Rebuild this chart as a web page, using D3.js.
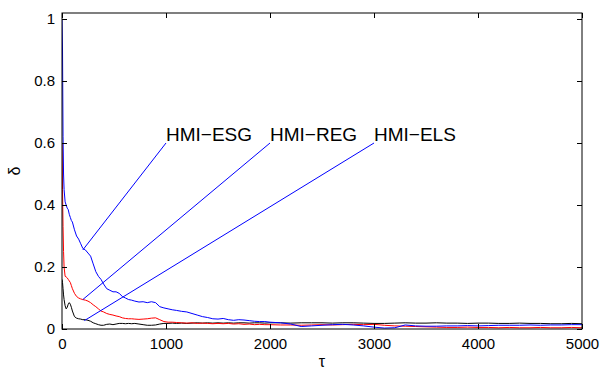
<!DOCTYPE html>
<html>
<head>
<meta charset="utf-8">
<script src="https://cdn.jsdelivr.net/npm/d3@7"></script>
<style>
  body { margin: 0; background: #fff; }
  svg { display: block; font-family: "Liberation Sans", Arial, sans-serif; }
</style>
</head>
<body>
<div id="chart"></div>
<script>
// sample positions (tau) shared by the three curves
const tau = [0, 5, 10, 15, 20, 30, 40, 50, 60, 70, 80, 90, 100, 120, 140, 160, 180, 200,
  225, 250, 275, 300, 325, 350, 375, 400, 430, 460, 490, 520, 550, 580, 610, 640, 670, 700,
  740, 780, 820, 860, 900, 940, 980, 1020, 1060, 1100, 1150, 1200, 1250, 1300, 1350, 1400,
  1450, 1500, 1550, 1600, 1650, 1700, 1750, 1800, 1850, 1900, 1950, 2000, 2100, 2200, 2300,
  2400, 2500, 2600, 2700, 2800, 2900, 3000, 3100, 3200, 3300, 3400, 3500, 3600, 3700, 3800,
  3900, 4000, 4100, 4200, 4300, 4400, 4500, 4600, 4700, 4800, 4900, 5000];

// HMI-ESG (blue)
const esg = [1.0, 0.9, 0.62, 0.5, 0.45, 0.41, 0.4, 0.39, 0.385, 0.37, 0.36, 0.35, 0.345, 0.32,
  0.3, 0.29, 0.275, 0.26, 0.255, 0.245, 0.235, 0.21, 0.185, 0.17, 0.16, 0.145, 0.13, 0.125,
  0.12, 0.12, 0.115, 0.105, 0.1, 0.095, 0.093, 0.09, 0.087, 0.088, 0.085, 0.088, 0.085, 0.072,
  0.068, 0.065, 0.062, 0.06, 0.057, 0.055, 0.05, 0.045, 0.04, 0.037, 0.033, 0.032, 0.034, 0.03,
  0.028, 0.03, 0.029, 0.027, 0.025, 0.024, 0.024, 0.022, 0.02, 0.016, 0.008, 0.01, 0.012, 0.014,
  0.015, 0.013, 0.01, 0.006, 0.003, 0.004, 0.013, 0.01, 0.009, 0.009, 0.01, 0.01, 0.011, 0.01,
  0.011, 0.012, 0.012, 0.012, 0.013, 0.012, 0.013, 0.013, 0.014, 0.014];

// HMI-REG (red)
const reg = [0.6, 0.45, 0.33, 0.25, 0.2, 0.17, 0.168, 0.165, 0.16, 0.155, 0.15, 0.14, 0.13,
  0.115, 0.105, 0.1, 0.097, 0.095, 0.093, 0.09, 0.085, 0.078, 0.072, 0.065, 0.058, 0.055, 0.05,
  0.047, 0.045, 0.042, 0.04, 0.036, 0.034, 0.033, 0.033, 0.032, 0.031, 0.032, 0.033, 0.035,
  0.036, 0.03, 0.024, 0.022, 0.022, 0.021, 0.02, 0.019, 0.02, 0.018, 0.019, 0.018, 0.017, 0.018,
  0.017, 0.018, 0.016, 0.017, 0.015, 0.016, 0.014, 0.015, 0.014, 0.014, 0.013, 0.013, 0.012,
  0.013, 0.014, 0.013, 0.014, 0.015, 0.014, 0.015, 0.012, 0.01, 0.009, 0.008, 0.007, 0.006,
  0.005, 0.005, 0.006, 0.005, 0.005, 0.004, 0.005, 0.004, 0.004, 0.005, 0.004, 0.004, 0.005, 0.004];

// HMI-ELS (black)
const els = [0.16, 0.15, 0.13, 0.11, 0.095, 0.075, 0.065, 0.07, 0.08, 0.085, 0.08, 0.07, 0.058,
  0.04, 0.035, 0.033, 0.032, 0.03, 0.03, 0.028, 0.025, 0.02, 0.017, 0.014, 0.012, 0.012, 0.015,
  0.016, 0.014, 0.016, 0.018, 0.018, 0.017, 0.018, 0.017, 0.018, 0.016, 0.014, 0.012, 0.012,
  0.013, 0.016, 0.018, 0.018, 0.019, 0.018, 0.019, 0.018, 0.019, 0.02, 0.019, 0.02, 0.019, 0.02,
  0.019, 0.02, 0.019, 0.02, 0.02, 0.019, 0.02, 0.02, 0.019, 0.02, 0.02, 0.019, 0.02, 0.02, 0.02,
  0.019, 0.02, 0.02, 0.019, 0.018, 0.018, 0.019, 0.02, 0.019, 0.019, 0.02, 0.019, 0.019, 0.018,
  0.019, 0.019, 0.018, 0.018, 0.019, 0.018, 0.018, 0.017, 0.017, 0.018, 0.017];

const xTicks = [0, 1000, 2000, 3000, 4000, 5000];
const yTicks = [0, 0.2, 0.4, 0.6, 0.8, 1];

// annotation labels: text anchor point and the curve point each line goes to
const labels = ['HMI\u2212ESG', 'HMI\u2212REG', 'HMI\u2212ELS'];
const labelTau = [1000, 2000, 3000];
const labelDelta = [0.6, 0.6, 0.6];
const targetTau = [200, 200, 215];
const targetDelta = [0.255, 0.095, 0.027];

const width = 600, height = 371;
const margin = { top: 13, right: 18, bottom: 42, left: 62 };

const svg = d3.select('#chart').append('svg')
  .attr('width', width)
  .attr('height', height);

const x = d3.scaleLinear()
  .domain([0, 5000])
  .range([margin.left, width - margin.right]);

const y = d3.scaleLinear()
  .domain([0, 1.0194])
  .range([height - margin.bottom, margin.top]);

const clip = svg.append('clipPath').attr('id', 'plot')
  .append('rect')
  .attr('x', margin.left)
  .attr('y', margin.top)
  .attr('width', x(5000) - margin.left)
  .attr('height', y(0) - margin.top);

// curves
const line = d3.line()
  .x((d, i) => x(tau[i]))
  .y(d => y(d));

const series = [
  { values: els, color: '#000' },
  { values: reg, color: '#ff0000' },
  { values: esg, color: '#0000ff' }
];

svg.append('g')
  .attr('clip-path', 'url(#plot)')
  .selectAll('path')
  .data(series)
  .enter().append('path')
  .attr('fill', 'none')
  .attr('stroke', d => d.color)
  .attr('stroke-width', 1)
  .attr('d', d => line(d.values));

// annotation lines
svg.append('g')
  .selectAll('line')
  .data(labels)
  .enter().append('line')
  .attr('x1', (d, i) => x(labelTau[i]))
  .attr('y1', (d, i) => y(labelDelta[i]))
  .attr('x2', (d, i) => x(targetTau[i]))
  .attr('y2', (d, i) => y(targetDelta[i]))
  .attr('stroke', '#0000ff')
  .attr('stroke-width', 1);

svg.append('g')
  .selectAll('text')
  .data(labels)
  .enter().append('text')
  .attr('x', (d, i) => x(labelTau[i]))
  .attr('y', (d, i) => y(labelDelta[i]) - 2.5)
  .attr('font-size', 19)
  .attr('fill', '#000')
  .text(d => d);

// axes: ticks inside, mirrored on top and right like a boxed plot
const tickLen = 5;
const axes = svg.append('g');

axes.append('g')
  .attr('transform', `translate(0,${y(0)})`)
  .call(d3.axisBottom(x).tickValues(xTicks).tickSize(-tickLen).tickPadding(9).tickFormat(d3.format('d')));

axes.append('g')
  .attr('transform', `translate(0,${margin.top})`)
  .call(d3.axisTop(x).tickValues(xTicks).tickSize(-tickLen).tickFormat(''));

axes.append('g')
  .attr('transform', `translate(${margin.left},0)`)
  .call(d3.axisLeft(y).tickValues(yTicks).tickSize(-tickLen).tickPadding(7).tickFormat(d => d3.format('')(d)));

axes.append('g')
  .attr('transform', `translate(${x(5000)},0)`)
  .call(d3.axisRight(y).tickValues(yTicks).tickSize(-tickLen).tickFormat(''));

axes.selectAll('.domain').remove();
axes.selectAll('.tick line').attr('stroke', '#000');
axes.selectAll('.tick text')
  .attr('font-size', 15)
  .attr('font-family', '"Liberation Sans", Arial, sans-serif')
  .attr('fill', '#000');

// frame
svg.append('rect')
  .attr('x', margin.left)
  .attr('y', margin.top)
  .attr('width', x(5000) - margin.left)
  .attr('height', y(0) - margin.top)
  .attr('fill', 'none')
  .attr('stroke', '#000')
  .attr('stroke-width', 1);

// axis labels
svg.append('text')
  .attr('x', (x(0) + x(5000)) / 2)
  .attr('y', 367)
  .attr('text-anchor', 'middle')
  .attr('font-size', 16)
  .text('\u03c4');

svg.append('text')
  .attr('transform', `translate(20,${(y(0) + margin.top) / 2}) rotate(-90)`)
  .attr('text-anchor', 'middle')
  .attr('font-size', 16)
  .text('\u03b4');
</script>
</body>
</html>
